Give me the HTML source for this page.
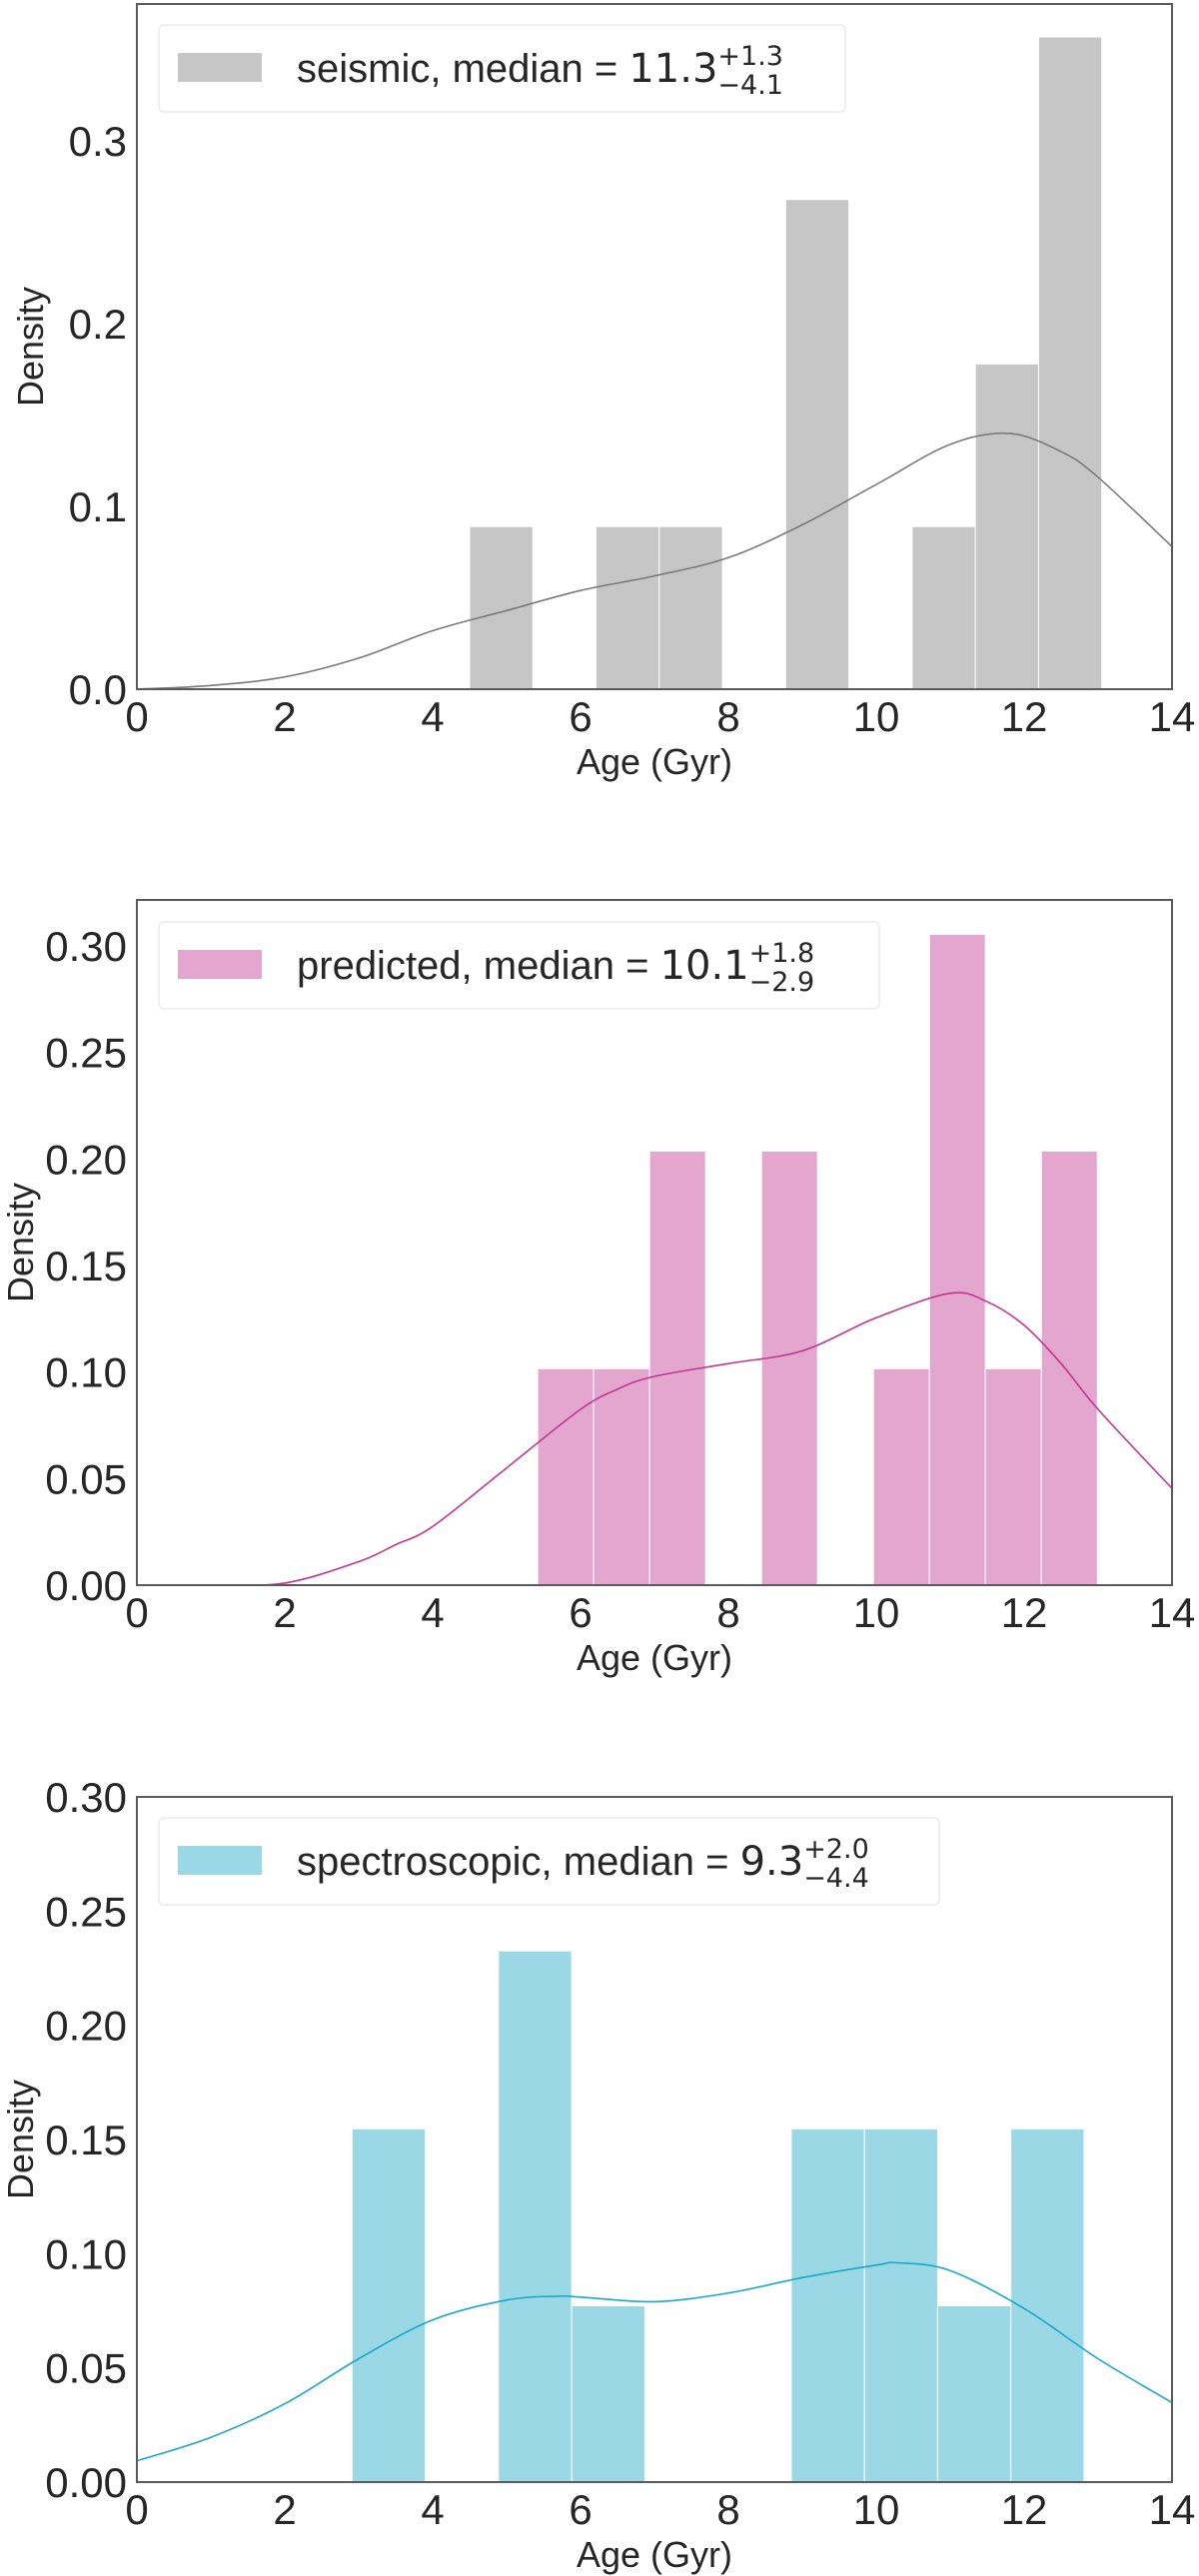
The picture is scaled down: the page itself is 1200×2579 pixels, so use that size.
<!DOCTYPE html>
<html><head><meta charset="utf-8"><style>
html,body{margin:0;padding:0;background:#fff;}
svg{display:block;font-family:"Liberation Sans",sans-serif;}
</style></head><body>
<svg id="fig" width="1200" height="2579" viewBox="0 0 1200 2579" xmlns="http://www.w3.org/2000/svg"></svg>
<script>
// ---- data ----
const seismicEdges0 = 4.5, seismicBinW = 0.855;
const seismicHeights = [0.089,0,0.089,0.089,0,0.268,0,0.089,0.178,0.357];
const seismicKdeX = [0,1,2,3,4,5,6,7,8,9,10,11,11.8,12.5,13,14];
const seismicKdeY = [0,0.002,0.0067,0.017,0.032,0.043,0.054,0.062,0.072,0.09,0.112,0.134,0.14,0.13,0.116,0.078];
const seismicYTicks = [0,0.1,0.2,0.3];
const seismicYLabels = ["0.0","0.1","0.2","0.3"];

const predEdges0 = 5.42, predBinW = 0.757;
const predHeights = [0.1016,0.1016,0.2037,0,0.2037,0,0.1016,0.3055,0.1016,0.2037];
const predKdeX = [1,2,3,3.5,4,5,6,6.5,7,8,9,10,11,11.5,12,12.5,13,14];
const predKdeY = [0,0.001,0.011,0.019,0.0275,0.055,0.0825,0.092,0.098,0.104,0.11,0.1255,0.137,0.133,0.122,0.104,0.0825,0.0454];
const predYTicks = [0,0.05,0.1,0.15,0.2,0.25,0.3];
const predYLabels = ["0.00","0.05","0.10","0.15","0.20","0.25","0.30"];

const specEdges0 = 2.91, specBinW = 0.99;
const specHeights = [0.1547,0,0.2326,0.0772,0,0,0.1547,0.1547,0.0772,0.1547];
const specKdeX = [0,1,2,3,4,5,5.7,6,7,8,9,10,10.3,11,12,13,14];
const specKdeY = [0.0093,0.0196,0.0343,0.054,0.071,0.0797,0.0814,0.081,0.079,0.0828,0.0895,0.095,0.096,0.0926,0.076,0.054,0.0348];
const specYTicks = [0,0.05,0.1,0.15,0.2,0.25,0.3];
const specYLabels = ["0.00","0.05","0.10","0.15","0.20","0.25","0.30"];

const xTicks = [0,2,4,6,8,10,12,14];
const xTickLabels = ["0","2","4","6","8","10","12","14"];

const NS = "http://www.w3.org/2000/svg";
const fig = document.getElementById('fig');
function mk(tag, attrs, parent){
  const e = document.createElementNS(NS, tag);
  for (const k in attrs) e.setAttribute(k, attrs[k]);
  (parent||fig).appendChild(e);
  return e;
}
function smoothPath(pts){
  let d = 'M'+pts[0][0].toFixed(1)+','+pts[0][1].toFixed(1);
  for (let i=0;i<pts.length-1;i++){
    const p0=pts[Math.max(0,i-1)], p1=pts[i], p2=pts[i+1], p3=pts[Math.min(pts.length-1,i+2)];
    const c1x=p1[0]+(p2[0]-p0[0])/6, c1y=p1[1]+(p2[1]-p0[1])/6;
    const c2x=p2[0]-(p3[0]-p1[0])/6, c2y=p2[1]-(p3[1]-p1[1])/6;
    d += 'C'+c1x.toFixed(1)+','+c1y.toFixed(1)+' '+c2x.toFixed(1)+','+c2y.toFixed(1)+' '+p2[0].toFixed(1)+','+p2[1].toFixed(1);
  }
  return d;
}

function panel(o){
  const L=137, R=1173, T=o.top, B=o.bottom;
  const sx = v => L + (v-0)/(14-0)*(R-L);
  const sy = v => B - v/o.ymax*(B-T);
  const g = mk('g',{});
  
  
  o.heights.forEach((h,i)=>{
    if (h<=0) return;
    const x0 = o.e0 + i*o.bw, x1 = x0 + o.bw;
    const r = mk('rect',{x:sx(x0),y:sy(h),width:sx(x1)-sx(x0),height:sy(0)-sy(h),fill:o.fill,stroke:'#fff','stroke-width':1},g);
    
    
  });
  const pts = o.kx.map((x,i)=>[sx(x), sy(o.ky[i])]);
  const p = mk('path',{d:smoothPath(pts),fill:'none',stroke:o.line,'stroke-width':1.6,'stroke-linejoin':'round'},g);
  
  
  const f = mk('rect',{x:L,y:T,width:R-L,height:B-T,fill:'none',stroke:'#5a5a5a','stroke-width':2},g);
  
  
  o.yt.forEach((v,i)=>{
    const t = mk('text',{x:127,y:sy(v)+15,'text-anchor':'end','font-size':42,fill:'#262626'},g);
    t.textContent = o.yl[i];
    
    
  });
  xTicks.forEach((v,i)=>{
    const t = mk('text',{x:sx(v),y:B+42,'text-anchor':'middle','font-size':42,fill:'#262626'},g);
    t.textContent = xTickLabels[i];
    
    
  });
  const xl = mk('text',{x:655,y:B+85,'text-anchor':'middle','font-size':36,fill:'#262626'},g);
  xl.textContent = 'Age (Gyr)';
  
  
  const cy = (T+B)/2;
  const yl = mk('text',{x:o.ylx,y:cy,'text-anchor':'middle','font-size':36,fill:'#262626',transform:'rotate(-90 '+o.ylx+' '+cy+')'},g);
  yl.textContent = 'Density';
  
  
  const lg = mk('g',{},g);
  
  
  mk('rect',{x:159,y:o.ly,width:o.lw,height:87,rx:5,fill:'#fff',stroke:'#ebebeb','stroke-width':1.5},lg);
  const sw = mk('rect',{x:178,y:o.ly+28,width:84,height:29,fill:o.fill},lg);
  
  
  const lt = mk('text',{x:297,y:o.ly+57,'font-size':40,fill:'#262626'},lg);
  
  
  const a = mk('tspan',{},lt); a.textContent = o.label+', median = ';
  const b = mk('tspan',{'font-family':'DejaVu Sans, sans-serif','font-size':40},lt); b.textContent = o.med;
  const bx = mk('tspan',{'font-family':'DejaVu Sans, sans-serif','font-size':27,dy:-17},lt); bx.textContent = o.up;
  const lo = mk('text',{'font-family':'DejaVu Sans, sans-serif','font-size':27,fill:'#262626'},lg);
  lo.textContent = o.dn;
  const n = lt.getNumberOfChars();
  const start = lt.getStartPositionOfChar(n - o.up.length);
  lo.setAttribute('x', start.x);
  lo.setAttribute('y', o.ly+69);
}

panel({name:'seismic',top:4,bottom:690,ymax:0.375,heights:seismicHeights,e0:seismicEdges0,bw:seismicBinW,
  kx:seismicKdeX,ky:seismicKdeY,yt:seismicYTicks,yl:seismicYLabels,fill:'#c6c6c6',line:'#7a7a7a',
  ylx:43,ly:25,lw:687,label:'seismic',med:'11.3',up:'+1.3',dn:'\u22124.1'});
panel({name:'predicted',top:901,bottom:1587,ymax:0.3216,heights:predHeights,e0:predEdges0,bw:predBinW,
  kx:predKdeX,ky:predKdeY,yt:predYTicks,yl:predYLabels,fill:'#e2a6cf',line:'#c2368f',
  ylx:33,ly:923,lw:721,label:'predicted',med:'10.1',up:'+1.8',dn:'\u22122.9'});
panel({name:'spectroscopic',top:1799,bottom:2485,ymax:0.30,heights:specHeights,e0:specEdges0,bw:specBinW,
  kx:specKdeX,ky:specKdeY,yt:specYTicks,yl:specYLabels,fill:'#9ad8e6',line:'#1aa7c8',
  ylx:33,ly:1820,lw:781,label:'spectroscopic',med:'9.3',up:'+2.0',dn:'\u22124.4'});
</script>
</body></html>
